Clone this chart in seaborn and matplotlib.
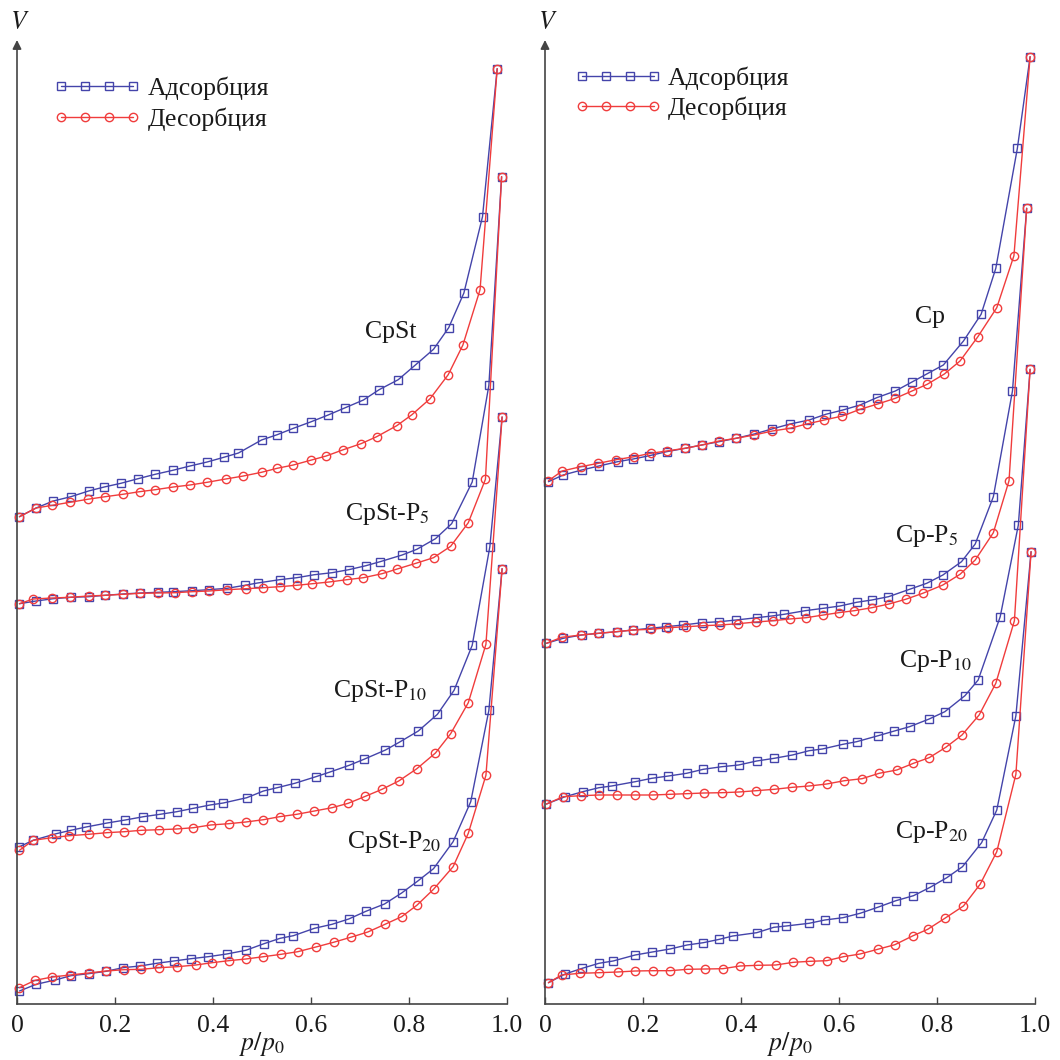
import matplotlib
matplotlib.use("Agg")
import matplotlib.pyplot as plt
import seaborn as sns
from matplotlib.lines import Line2D

# ---------------- data (p/p0, V in arbitrary units) ----------------
cpst_ads_p = [0.005,0.039,0.074,0.110,0.146,0.178,0.212,0.247,0.282,0.318,0.353,0.388,0.422,0.452,0.499,0.531,0.564,0.599,0.635,0.670,0.707,0.739,0.778,0.813,0.850,0.881,0.912,0.950,0.980]
cpst_ads_v = [487.3,496,503,507.3,513,517,520.7,525.3,529.7,533.7,538,542,546.7,551,564,569.3,575.7,582,589,596.3,604,614.3,624.3,639,654.7,676.3,711,787.3,935.3]
cpst_des_p = [0.005,0.039,0.072,0.108,0.144,0.180,0.216,0.250,0.282,0.319,0.353,0.388,0.426,0.462,0.499,0.531,0.564,0.599,0.631,0.666,0.702,0.734,0.775,0.806,0.843,0.880,0.910,0.945,0.980]
cpst_des_v = [487.3,496,498.7,501.7,504.7,507.3,509.7,512.3,514.3,517,519,521.7,525,528,531.7,535.7,539,543.7,548,554.3,560.3,567.3,578.3,589.3,605.3,629.3,659,714.3,935.3]

cpst5_ads_p = [0.005,0.039,0.074,0.110,0.146,0.180,0.216,0.251,0.288,0.319,0.357,0.391,0.429,0.465,0.491,0.536,0.571,0.607,0.643,0.677,0.712,0.741,0.786,0.816,0.854,0.887,0.929,0.963,0.989]
cpst5_ads_v = [400.3,403,405.3,406.7,407.3,408.7,410,411,411.7,412.3,413.3,414.3,415.7,418.7,421,424.3,426.3,429.3,431.3,434.3,438.3,442.3,449,454.7,465.3,480.3,522,618.7,827.3]
cpst5_des_p = [0.005,0.033,0.072,0.108,0.146,0.180,0.216,0.251,0.288,0.323,0.357,0.392,0.429,0.467,0.503,0.536,0.571,0.603,0.637,0.673,0.707,0.745,0.776,0.814,0.850,0.885,0.921,0.956,0.989]
cpst5_des_v = [400.3,405,406,406.7,408,408.7,409.7,410.7,411,411.3,412.3,413,414.3,415.3,416.3,417.3,418.7,420.3,422,424.3,426.3,430.3,435,440.7,446.3,457.7,481.3,524.7,827.3]

cpst10_ads_p = [0.005,0.033,0.080,0.110,0.141,0.184,0.221,0.258,0.292,0.326,0.360,0.394,0.421,0.469,0.503,0.531,0.567,0.610,0.637,0.678,0.708,0.752,0.780,0.819,0.858,0.892,0.929,0.965,0.990]
cpst10_ads_v = [157.3,163.7,170.3,173.7,177,181,184,187.3,189.7,192.3,195.7,199,201,206.3,213,216.3,220.7,227.3,231.7,238.7,244.7,254,261.7,273,289.7,313.7,358.7,457.3,587]
cpst10_des_p = [0.005,0.033,0.071,0.107,0.146,0.183,0.219,0.254,0.290,0.326,0.360,0.395,0.432,0.467,0.503,0.536,0.571,0.607,0.643,0.676,0.711,0.745,0.779,0.816,0.854,0.885,0.921,0.957,0.990]
cpst10_des_v = [153.7,163.7,166.3,168.3,169.7,171.3,172.3,173.7,174.3,175,176.3,179,180.3,182,184.3,187.3,189.7,193,196.3,200.7,207.7,214.7,223,235.3,251,270.3,301.3,359.7,587]

cpst20_ads_p = [0.005,0.039,0.078,0.110,0.146,0.182,0.216,0.251,0.285,0.320,0.355,0.390,0.428,0.467,0.504,0.537,0.564,0.607,0.643,0.677,0.712,0.750,0.785,0.818,0.850,0.890,0.926,0.963,0.990]
cpst20_ads_v = [13,19.7,24,28.3,30.3,32.7,36.3,38,40.7,43,45.3,47.3,50,53.7,60.3,65.7,68.3,75.7,79.7,85,92.7,100,111,123,135.3,162.3,202.3,293.7,435.3]
cpst20_des_p = [0.005,0.037,0.072,0.108,0.146,0.182,0.218,0.254,0.290,0.327,0.365,0.398,0.432,0.467,0.503,0.539,0.573,0.610,0.646,0.681,0.716,0.751,0.785,0.816,0.850,0.890,0.921,0.957,0.990]
cpst20_des_v = [16.3,23.7,27,29,31,33,34.3,34.7,36.3,37.3,39,41.3,43.3,45,47.3,49.7,52.3,57,61.7,66.7,72,79.7,87.3,98.7,114.7,137.3,170.7,228.7,435.3]

cp_ads_p = [0.007,0.037,0.075,0.110,0.148,0.180,0.213,0.248,0.286,0.320,0.355,0.390,0.427,0.463,0.500,0.539,0.573,0.608,0.643,0.677,0.715,0.749,0.779,0.813,0.854,0.890,0.920,0.964,0.990]
cp_ads_v = [522.3,529,534,538,542.3,545,548.3,552.3,555.7,559,562.3,565.7,570,575,580,584,589.7,594,599,606.3,613,622,630,639,663,689.7,735.7,855.7,947.3]
cp_des_p = [0.007,0.035,0.073,0.109,0.145,0.182,0.216,0.248,0.286,0.320,0.355,0.390,0.427,0.464,0.500,0.534,0.570,0.607,0.643,0.679,0.715,0.749,0.780,0.815,0.847,0.883,0.922,0.957,0.990]
cp_des_v = [523.3,533,537.3,540.7,544.3,547.3,550.7,553,555.7,559,563,565.7,569,573,575.7,580,584,588,594.7,600,605.7,613,619.7,630,643,667,696.3,748.3,947.3]

cp5_ads_p = [0.003,0.037,0.075,0.110,0.146,0.180,0.214,0.247,0.282,0.320,0.356,0.390,0.432,0.463,0.488,0.531,0.568,0.602,0.636,0.667,0.701,0.744,0.779,0.812,0.850,0.878,0.915,0.954,0.983]
cp5_ads_v = [360.7,365.7,369,370.7,372.3,374,375.7,377.3,379,381.3,382.3,384,386.3,388,389.7,393.3,395.7,398,401.7,404,407.3,414.7,420.7,429,442.3,460,507.3,613,795.7]
cp5_des_p = [0.003,0.034,0.073,0.109,0.146,0.180,0.216,0.252,0.288,0.323,0.357,0.394,0.431,0.466,0.499,0.533,0.568,0.599,0.631,0.667,0.702,0.736,0.771,0.812,0.847,0.878,0.915,0.947,0.983]
cp5_des_v = [360.7,366.7,369,370.7,372.3,374,374.7,376.3,377.3,378.3,379,380.3,382,383.3,385,386.3,389,391.3,393.3,396.3,400,404.7,410.7,419,429.7,444,471.3,523.3,795.7]

cp10_ads_p = [0.003,0.041,0.077,0.110,0.136,0.184,0.218,0.252,0.289,0.323,0.361,0.395,0.432,0.468,0.505,0.539,0.566,0.608,0.636,0.680,0.713,0.744,0.784,0.816,0.857,0.884,0.929,0.966,0.990]
cp10_ads_v = [200,207.3,212.3,216.3,218,222.3,225.7,228,230.7,234.7,237.3,239,243,245.7,249,253.3,255,259.7,262.3,268.3,273,277.3,285,292.3,308.3,324,387.3,479,634.7]
cp10_des_p = [0.003,0.037,0.073,0.110,0.146,0.184,0.220,0.255,0.289,0.324,0.361,0.396,0.431,0.468,0.505,0.539,0.575,0.611,0.647,0.682,0.718,0.752,0.784,0.818,0.851,0.886,0.920,0.958,0.990]
cp10_des_v = [200,207.3,208.3,209,209,209,209,209.7,210.3,211,211.3,212,213.3,214.7,216.7,218,220,223.3,225.3,230.7,234,240.7,246.3,256.7,269,289,320.7,383.3,634.7]

cp20_ads_p = [0.007,0.041,0.076,0.110,0.139,0.184,0.219,0.255,0.290,0.323,0.356,0.383,0.432,0.467,0.492,0.539,0.571,0.608,0.643,0.679,0.716,0.752,0.786,0.820,0.852,0.891,0.922,0.961,0.992]
cp20_ads_v = [21.3,30,35.7,40.7,43,49,52,55,59,61.3,64.7,68,71.3,76.7,78,80.7,84,86.3,90.7,96.7,103.3,108.3,116.7,126.3,137.3,161.3,194,288.3,452.3]
cp20_des_p = [0.007,0.034,0.071,0.110,0.148,0.184,0.220,0.255,0.291,0.327,0.363,0.398,0.434,0.471,0.507,0.541,0.575,0.609,0.643,0.679,0.714,0.750,0.781,0.816,0.854,0.888,0.922,0.961,0.992]
cp20_des_v = [21.3,29,30.7,31.3,32,33,33.3,33.3,34.7,35,35.3,38,38.7,39,41.7,42.7,43.3,47.3,50,54.7,59.3,68,74.7,85.7,98,119.7,152.3,229.7,452.3]

x_ticks = [0, 0.2, 0.4, 0.6, 0.8, 1.0]
x_tick_labels = ["0", "0.2", "0.4", "0.6", "0.8", "1.0"]
legend_labels = ["Адсорбция", "Десорбция"]
left_names = ["CpSt", r"CpSt-P$_{\mathrm{5}}$", r"CpSt-P$_{\mathrm{10}}$", r"CpSt-P$_{\mathrm{20}}$"]
right_names = ["Cp", r"Cp-P$_{\mathrm{5}}$", r"Cp-P$_{\mathrm{10}}$", r"Cp-P$_{\mathrm{20}}$"]

# ---------------- style ----------------
sns.set_theme(style="white")
plt.rcParams["font.family"] = ["Liberation Serif", "DejaVu Serif"]
plt.rcParams["mathtext.fontset"] = "stix"

BLUE = "#4444aa"
RED = "#f03c3c"
AXC = "#444444"
FS = 18.5

fig = plt.figure(figsize=(10.6, 10.6), dpi=100)
W = 1060.0
axL = fig.add_axes([17 / W, 56 / W, 490 / W, 964 / W])
axR = fig.add_axes([545 / W, 56 / W, 490 / W, 964 / W])


def draw(ax, p, v, color, marker):
    sns.lineplot(x=p, y=v, ax=ax, color=color, marker=marker, markersize=6.0,
                 markerfacecolor="none", markeredgecolor=color, markeredgewidth=1.0,
                 linewidth=1.0, estimator=None, sort=False, clip_on=False)


left_sets = [(cpst_ads_p, cpst_ads_v, cpst_des_p, cpst_des_v),
             (cpst5_ads_p, cpst5_ads_v, cpst5_des_p, cpst5_des_v),
             (cpst10_ads_p, cpst10_ads_v, cpst10_des_p, cpst10_des_v),
             (cpst20_ads_p, cpst20_ads_v, cpst20_des_p, cpst20_des_v)]
right_sets = [(cp_ads_p, cp_ads_v, cp_des_p, cp_des_v),
              (cp5_ads_p, cp5_ads_v, cp5_des_p, cp5_des_v),
              (cp10_ads_p, cp10_ads_v, cp10_des_p, cp10_des_v),
              (cp20_ads_p, cp20_ads_v, cp20_des_p, cp20_des_v)]

for ax, sets in ((axL, left_sets), (axR, right_sets)):
    for ap, av, dp, dv in sets:
        draw(ax, ap, av, BLUE, "s")
        draw(ax, dp, dv, RED, "o")

# curve labels (positions in axis units)
left_label_pos = [(0.816, 666), (0.843, 484), (0.837, 307), (0.867, 156)]
right_label_pos = [(0.816, 681), (0.843, 462), (0.871, 337), (0.864, 166)]
for ax, names, pos in ((axL, left_names, left_label_pos), (axR, right_names, right_label_pos)):
    for name, (xx, yy) in zip(names, pos):
        ax.text(xx, yy, name, ha="right", va="baseline", fontsize=FS, color="#1a1a1a")

for ax, leg_anchor in ((axL, (0.075, 0.962)), (axR, (0.060, 0.973))):
    ax.set_xlim(0, 1.0)
    ax.set_ylim(0, 964)
    ax.set_xticks(x_ticks)
    ax.set_xticklabels(x_tick_labels, fontsize=FS)
    ax.set_yticks([])
    ax.tick_params(axis="x", direction="in", length=5, width=1.0, color=AXC,
                   labelcolor="#1a1a1a", pad=8, bottom=True)
    for s in ("top", "right", "left"):
        ax.spines[s].set_visible(False)
    ax.spines["bottom"].set_color(AXC)
    ax.spines["bottom"].set_linewidth(1.2)
    ax.annotate("", xy=(0, 1), xycoords="axes fraction", xytext=(0, 0),
                textcoords="axes fraction",
                arrowprops=dict(arrowstyle="-|>", color=AXC, lw=1.2,
                                mutation_scale=13, shrinkA=0, shrinkB=0))
    ax.text(0.006, 1.018, "$V$", transform=ax.transAxes, ha="center",
            va="center", fontsize=FS, color="#1a1a1a")
    ax.set_xlabel(r"$p/p_0$", fontsize=FS, labelpad=-5, color="#1a1a1a")
    ax.set_ylabel("")
    handles = [Line2D([], [], color=BLUE, marker="s", markersize=6.0, markerfacecolor="none",
                      markeredgecolor=BLUE, markeredgewidth=1.0, linewidth=1.0),
               Line2D([], [], color=RED, marker="o", markersize=6.0, markerfacecolor="none",
                      markeredgecolor=RED, markeredgewidth=1.0, linewidth=1.0)]
    ax.legend(handles, legend_labels, loc="upper left", bbox_to_anchor=leg_anchor,
              frameon=False, numpoints=4, handlelength=3.4, handletextpad=0.25,
              labelspacing=0.27, borderpad=0, borderaxespad=0, fontsize=FS,
              labelcolor="#1a1a1a")
    ax.set_facecolor("white")

fig.savefig("out.png", dpi=100, facecolor="white")
